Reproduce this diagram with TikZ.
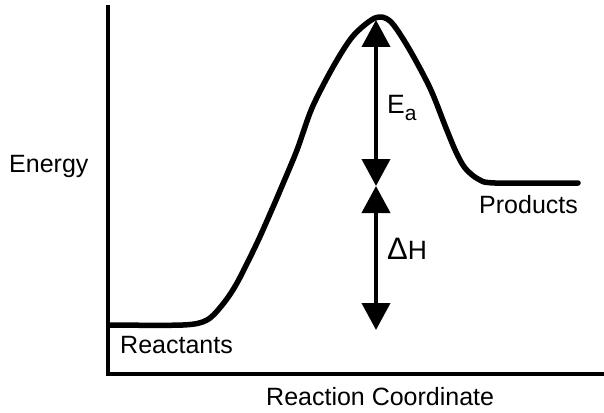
\documentclass[tikz,border=0pt]{standalone}
\usepackage{fontspec}
\setmainfont{Liberation Sans}
\usetikzlibrary{arrows.meta}
\begin{document}
\begin{tikzpicture}[x=1pt,y=-1pt,
  axisline/.style={line width=3.6pt},
  curveline/.style={line width=5.5pt,line join=round,line cap=round},
  dblarrow/.style={line width=4pt,{Triangle[width=28pt,length=27pt]}-{Triangle[width=28pt,length=27pt]}},
  lbl/.style={inner sep=0pt,font=\fontsize{25}{29}\selectfont},
  biglbl/.style={inner sep=0pt,font=\fontsize{26.5}{30}\selectfont}]
\useasboundingbox (0,0) rectangle (604,412);
% axes
\coordinate (ytop) at (108,5);
\coordinate (origin) at (108,374);
\coordinate (xend) at (604,374);
\draw[axisline] (ytop) -- (origin) -- (xend);
% energy curve
\draw[curveline] plot[smooth,tension=0.5] coordinates {
 (110,325) (183,325) (207,320) (223,304) (237,283) (257,243) (273,207)
 (282,186) (297,150) (312,108) (333,67) (353,36) (375,18) (390,21)
 (408,47) (430,88) (446,128) (456,152) (465,168) (478,179) (495,183) (578,183)};
% arrows
\coordinate (peak) at (376,20);
\coordinate (mid) at (376,186);
\coordinate (low) at (376,330);
\draw[dblarrow] (peak) -- (mid);
\draw[dblarrow] (mid) -- (low);
% labels
\node[lbl,anchor=base west] (energy) at (9,172) {Energy};
\node[lbl,anchor=base west] (reactants) at (120,353) {Reactants};
\node[lbl,anchor=base west] (products) at (479,213) {Products};
\node[lbl,anchor=base west] (rc) at (266,405) {Reaction Coordinate};
\node[biglbl,anchor=base west] (ea) at (387,113) {E\raisebox{-7pt}{\fontsize{21}{24}\selectfont a}};
\node[biglbl,anchor=base west] (dh) at (387,259) {\fontsize{31}{34}\selectfont Δ\fontsize{26.5}{30}\selectfont H};
\end{tikzpicture}
\end{document}
